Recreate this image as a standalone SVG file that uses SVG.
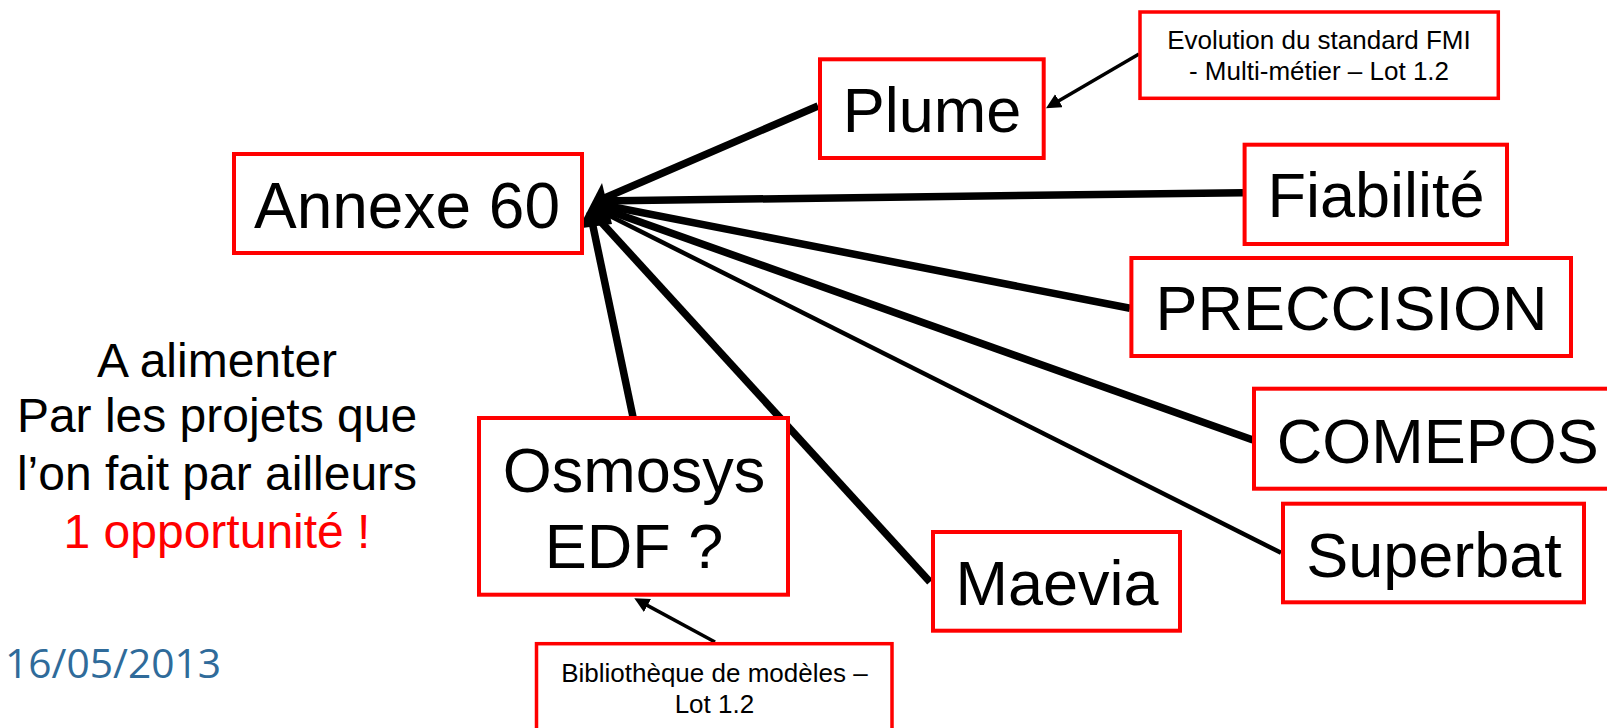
<svg xmlns="http://www.w3.org/2000/svg" width="1607" height="728" viewBox="0 0 1607 728">
<style>
.box{fill:#ffffff;stroke:#ff0000;stroke-width:4}
.sbox{fill:#ffffff;stroke:#ff0000;stroke-width:3.5}
.big{font-family:"Liberation Sans",Arial,sans-serif;font-size:63px;fill:#000;text-anchor:middle}
.small{font-family:"Liberation Sans",Arial,sans-serif;font-size:26px;fill:#000;text-anchor:middle}
.side{font-family:"Liberation Sans",Arial,sans-serif;font-size:48px;fill:#000;text-anchor:middle}
.thick{stroke:#000;stroke-width:7.5;fill:none}
.thin{stroke:#000;stroke-width:4.5;fill:none}
.note{stroke:#000;stroke-width:3.5;fill:none;marker-end:url(#ah)}
</style>
<defs>
<marker id="ah" markerUnits="userSpaceOnUse" markerWidth="16" markerHeight="16" refX="5" refY="7.5" orient="auto">
<path d="M0,0 L15,7.5 L0,15 z" fill="#000"/>
</marker>
</defs>
<rect width="1607" height="728" fill="#ffffff"/>

<g id="connectors">
<line class="thick" x1="818" y1="106" x2="600" y2="200"/>
<line class="thick" x1="1243" y1="192.7" x2="598" y2="201"/>
<line class="thick" x1="1130" y1="308.3" x2="598" y2="204"/>
<line class="thick" x1="1253" y1="440" x2="598" y2="207"/>
<line class="thin" x1="1281" y1="552.7" x2="598" y2="210"/>
<line class="thick" x1="930" y1="582" x2="592" y2="212"/>
<line class="thick" x1="633" y1="417" x2="590" y2="212"/>
<polygon points="578.5,228.5 602,183 612,224" fill="#000"/>
<line class="note" x1="1139" y1="54" x2="1054.6" y2="103.2"/>
<line class="note" x1="715" y1="642" x2="643.1" y2="603.1"/>
</g>

<g id="node-annexe60">
<rect class="box" x="234" y="154" width="348" height="99"/>
<text class="big" x="407" y="228" style="font-size:64px">Annexe 60</text>
</g>

<g id="node-plume">
<rect class="box" x="820" y="59.3" width="223.7" height="98.7"/>
<text class="big" x="932" y="132.3">Plume</text>
</g>

<g id="node-evolution">
<rect class="sbox" x="1140" y="12" width="358.3" height="86.3"/>
<text class="small" x="1319" y="49">Evolution du standard FMI</text>
<text class="small" x="1319" y="80">- Multi-métier – Lot 1.2</text>
</g>

<g id="node-fiabilite">
<rect class="box" x="1244.6" y="144.7" width="262.4" height="99.3"/>
<text class="big" x="1376" y="216.7">Fiabilité</text>
</g>

<g id="node-preccision">
<rect class="box" x="1131.4" y="258" width="439.6" height="98"/>
<text class="big" x="1351.5" y="330">PRECCISION</text>
</g>

<g id="node-comepos">
<rect class="box" x="1254" y="388.7" width="380" height="100"/>
<text class="big" x="1437.7" y="463.3">COMEPOS</text>
</g>

<g id="node-superbat">
<rect class="box" x="1283" y="503.7" width="301" height="98.6"/>
<text class="big" x="1434" y="576.7">Superbat</text>
</g>

<g id="node-maevia">
<rect class="box" x="933" y="532" width="247" height="98.7"/>
<text class="big" x="1057" y="605">Maevia</text>
</g>

<g id="node-osmosys">
<rect class="box" x="479" y="418" width="309" height="176.7"/>
<text class="big" x="634" y="491.7">Osmosys</text>
<text class="big" x="634" y="568.3">EDF ?</text>
</g>

<g id="node-bibliotheque">
<rect class="sbox" x="536.5" y="643.7" width="355.5" height="110"/>
<text class="small" x="714.4" y="681.7">Bibliothèque de modèles –</text>
<text class="small" x="714.4" y="713.3">Lot 1.2</text>
</g>

<g id="side-text">
<text class="side" x="217" y="376.7">A alimenter</text>
<text class="side" x="217" y="432">Par les projets que</text>
<text class="side" x="217" y="490">l’on fait par ailleurs</text>
<text class="side" x="217" y="548.3" style="fill:#ff0000">1 opportunité !</text>
</g>

<text x="5" y="678.3" font-family="'Open Sans','Noto Sans',sans-serif" font-size="40" fill="#2F6B9A" textLength="216" lengthAdjust="spacingAndGlyphs">16/05/2013</text>
</svg>
